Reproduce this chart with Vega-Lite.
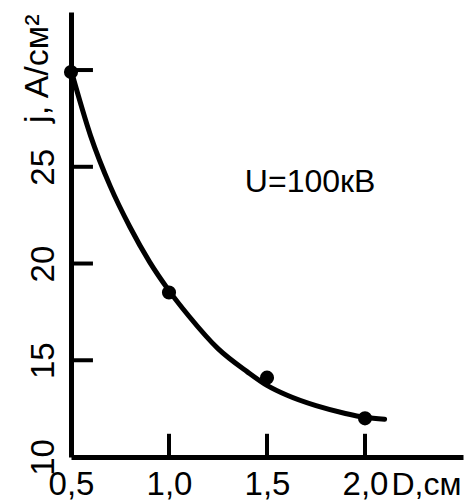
{
  "$schema": "https://vega.github.io/schema/vega-lite/v6.json",
  "autosize": {"type": "none"},
  "padding": {"left": 71, "top": 12, "right": 3, "bottom": 43},
  "width": 392,
  "height": 445,
  "background": "white",
  "config": {
    "view": {"stroke": null},
    "font": "Liberation Sans",
    "axis": {"grid": false, "domainColor": "black", "labelColor": "black", "titleColor": "black", "labelFont": "Liberation Sans", "titleFont": "Liberation Sans", "titleFontWeight": "normal"}
  },
  "datasets": {
    "curve": [
      {"D": 0.5, "j": 30.0},
      {"D": 0.6, "j": 26.6},
      {"D": 0.7, "j": 24.0},
      {"D": 0.8, "j": 21.9},
      {"D": 0.9, "j": 20.1},
      {"D": 1.0, "j": 18.6},
      {"D": 1.1, "j": 17.3},
      {"D": 1.25, "j": 15.6},
      {"D": 1.4, "j": 14.4},
      {"D": 1.5, "j": 13.7},
      {"D": 1.6, "j": 13.2},
      {"D": 1.75, "j": 12.65},
      {"D": 1.9, "j": 12.25},
      {"D": 2.0, "j": 12.05},
      {"D": 2.1, "j": 11.95}
    ],
    "points": [
      {"D": 0.5, "j": 29.9},
      {"D": 1.0, "j": 18.5},
      {"D": 1.5, "j": 14.1},
      {"D": 2.0, "j": 12.0}
    ],
    "ticks": [
      {"tick": "y15", "D": 0.5, "j": 15}, {"tick": "y15", "D": 0.612, "j": 15},
      {"tick": "y20", "D": 0.5, "j": 20}, {"tick": "y20", "D": 0.612, "j": 20},
      {"tick": "y25", "D": 0.5, "j": 25}, {"tick": "y25", "D": 0.612, "j": 25},
      {"tick": "y30", "D": 0.5, "j": 30}, {"tick": "y30", "D": 0.612, "j": 30},
      {"tick": "x10", "D": 1.0, "j": 10}, {"tick": "x10", "D": 1.0, "j": 11.2},
      {"tick": "x15", "D": 1.5, "j": 10}, {"tick": "x15", "D": 1.5, "j": 11.2},
      {"tick": "x20", "D": 2.0, "j": 10}, {"tick": "x20", "D": 2.0, "j": 11.2}
    ],
    "note": [
      {"D": 1.72, "j": 24.2, "text": "U=100кВ"}
    ]
  },
  "layer": [
    {
      "data": {"name": "curve"},
      "mark": {"type": "line", "interpolate": "monotone", "color": "black", "strokeWidth": 5, "strokeCap": "round", "clip": false},
      "encoding": {
        "x": {
          "field": "D", "type": "quantitative",
          "scale": {"domain": [0.5, 2.5], "nice": false, "zero": false},
          "axis": {
            "orient": "bottom",
            "values": [0.5, 1, 1.5, 2],
            "labelExpr": "replace(format(datum.value, '.1f'), '.', ',')",
            "domainWidth": 5, "ticks": false,
            "labelPadding": 27, "labelBaseline": "middle", "labelAlign": "center",
            "labelFontSize": 33,
            "title": "D,см", "titleFontSize": 32, "titleAlign": "right", "titleBaseline": "middle",
            "titleAnchor": "end", "titleX": 390, "titleY": 27, "titleAngle": 0
          }
        },
        "y": {
          "field": "j", "type": "quantitative",
          "scale": {"domain": [10, 33], "nice": false, "zero": false},
          "axis": {
            "orient": "left",
            "values": [10, 15, 20, 25, 30],
            "labelExpr": "datum.value == 30 ? '' : datum.label",
            "domainWidth": 5, "ticks": false,
            "labelPadding": 28, "labelAngle": -90, "labelAlign": "center", "labelBaseline": "middle",
            "labelFontSize": 33,
            "title": "j, A/см²", "titleFontSize": 34, "titleAngle": -90,
            "titleAlign": "right", "titleBaseline": "middle", "titleAnchor": "end",
            "titleX": -34, "titleY": 2
          }
        }
      }
    },
    {
      "data": {"name": "ticks"},
      "mark": {"type": "line", "color": "black", "strokeWidth": 4, "clip": false},
      "encoding": {
        "x": {"field": "D", "type": "quantitative"},
        "y": {"field": "j", "type": "quantitative"},
        "detail": {"field": "tick", "type": "nominal"}
      }
    },
    {
      "data": {"name": "points"},
      "mark": {"type": "circle", "color": "black", "size": 200, "opacity": 1, "clip": false},
      "encoding": {
        "x": {"field": "D", "type": "quantitative"},
        "y": {"field": "j", "type": "quantitative"}
      }
    },
    {
      "data": {"name": "note"},
      "mark": {"type": "text", "color": "black", "fontSize": 32, "align": "center", "baseline": "middle"},
      "encoding": {
        "x": {"field": "D", "type": "quantitative"},
        "y": {"field": "j", "type": "quantitative"},
        "text": {"field": "text"}
      }
    }
  ]
}
